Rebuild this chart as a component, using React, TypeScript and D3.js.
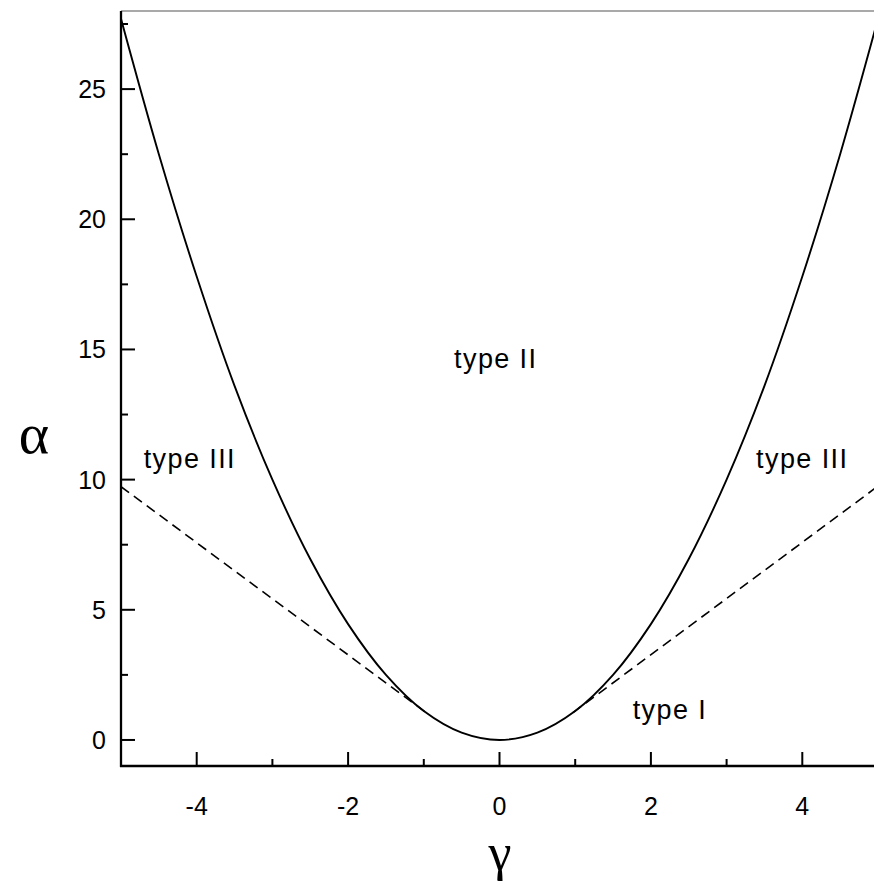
import React from "react";
import * as d3 from "d3";

const solidGamma = [-5, -4.5, -4, -3.5, -3, -2.5, -2, -1.5, -1, -0.5, 0, 0.5, 1, 1.5, 2, 2.5, 3, 3.5, 4, 4.5, 5];
const solidAlpha = [27.7, 22.5, 17.8, 13.6, 10.0, 6.95, 4.45, 2.5, 1.11, 0.28, 0, 0.28, 1.11, 2.5, 4.45, 6.95, 10.0, 13.6, 17.8, 22.5, 27.7];

const dashLeftGamma = [-5, -0.97];
const dashLeftAlpha = [9.73, 1.05];
const dashRightGamma = [0.97, 5];
const dashRightAlpha = [1.05, 9.75];

const xMajorTicks = [-4, -2, 0, 2, 4];
const xMinorTicks = [-5, -3, -1, 1, 3, 5];
const yMajorTicks = [0, 5, 10, 15, 20, 25];
const yMinorTicks = [2.5, 7.5, 12.5, 17.5, 22.5, 27.5];

const labels = [
  { text: "type II", g: -0.6, a: 14.3 },
  { text: "type III", g: -4.7, a: 10.45 },
  { text: "type III", g: 3.39, a: 10.45 },
  { text: "type I", g: 1.76, a: 0.8 },
];

export default function App() {
  const W = 874, H = 890;
  const left = 121, right = 878, top = 11, bottom = 766;
  const x = d3.scaleLinear().domain([-5, 5]).range([left, right]);
  const y = d3.scaleLinear().domain([-1, 28]).range([bottom, top]);

  const line = d3
    .line<[number, number]>()
    .x((d) => x(d[0]))
    .y((d) => y(d[1]))
    .curve(d3.curveCatmullRom.alpha(0.5));
  const straight = d3
    .line<[number, number]>()
    .x((d) => x(d[0]))
    .y((d) => y(d[1]));

  const solidPts = solidGamma.map((g, i) => [g, solidAlpha[i]] as [number, number]);
  const dl = dashLeftGamma.map((g, i) => [g, dashLeftAlpha[i]] as [number, number]);
  const dr = dashRightGamma.map((g, i) => [g, dashRightAlpha[i]] as [number, number]);

  const font = "'Liberation Sans', Arial, Helvetica, sans-serif";
  const serif = "'Liberation Serif', 'Times New Roman', serif";

  return (
    <svg
      width={W}
      height={H}
      style={{ position: "absolute", left: 0, top: 0, background: "#fff" }}
    >
      <defs>
        <clipPath id="plotclip">
          <rect x={left} y={top} width={right - left} height={bottom - top} />
        </clipPath>
      </defs>
      <rect x={0} y={0} width={W} height={H} fill="#fff" />

      <g clipPath="url(#plotclip)">
        <path d={straight(dl) || ""} fill="none" stroke="#000" strokeWidth={1.6} strokeDasharray="10,6" />
        <path d={straight(dr) || ""} fill="none" stroke="#000" strokeWidth={1.6} strokeDasharray="10,6" />
        <path d={line(solidPts) || ""} fill="none" stroke="#000" strokeWidth={1.9} />
      </g>

      <line x1={left} x2={right} y1={top} y2={top} stroke="#555" strokeWidth={1.2} />
      <line x1={left} x2={left} y1={top} y2={bottom + 1} stroke="#000" strokeWidth={2.3} />
      <line x1={left - 1} x2={right} y1={bottom} y2={bottom} stroke="#000" strokeWidth={2.3} />

      {yMajorTicks.map((t) => (
        <g key={"ym" + t}>
          <line x1={left} x2={left + 14} y1={y(t)} y2={y(t)} stroke="#000" strokeWidth={2} />
          <text x={106} y={y(t) + 9} textAnchor="end" fontFamily={font} fontSize={25}>
            {t}
          </text>
        </g>
      ))}
      {yMinorTicks.map((t) => (
        <line key={"yn" + t} x1={left} x2={left + 7} y1={y(t)} y2={y(t)} stroke="#000" strokeWidth={2} />
      ))}
      {xMajorTicks.map((t) => (
        <g key={"xm" + t}>
          <line x1={x(t)} x2={x(t)} y1={bottom} y2={bottom - 14} stroke="#000" strokeWidth={2} />
          <text x={x(t)} y={815} textAnchor="middle" fontFamily={font} fontSize={25}>
            {t}
          </text>
        </g>
      ))}
      {xMinorTicks.map((t) => (
        <line key={"xn" + t} x1={x(t)} x2={x(t)} y1={bottom} y2={bottom - 7} stroke="#000" strokeWidth={2} />
      ))}

      {labels.map((l, i) => (
        <text
          key={"lb" + i}
          x={x(l.g)}
          y={y(l.a)}
          fontFamily={font}
          fontSize={27}
          letterSpacing={1.4}
        >
          {l.text}
        </text>
      ))}

      <text x={34} y={453} textAnchor="middle" fontFamily={serif} fontSize={58}>
        α
      </text>
      <text x={500} y={870} textAnchor="middle" fontFamily={serif} fontSize={52}>
        γ
      </text>
    </svg>
  );
}
